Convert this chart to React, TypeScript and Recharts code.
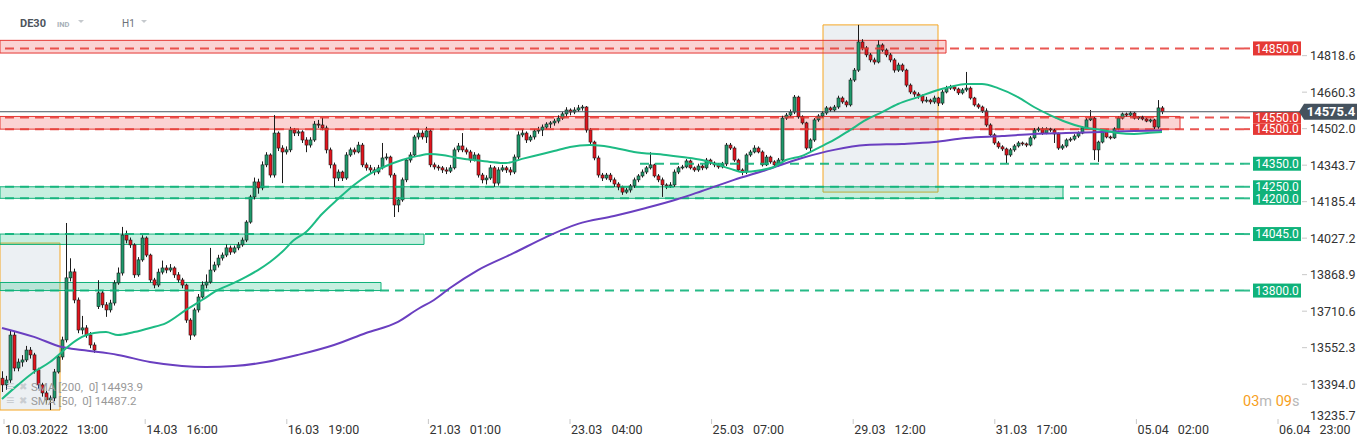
import React from "react";
import { ComposedChart, Bar, Line, XAxis, YAxis, ReferenceLine, ReferenceArea } from "recharts";

// hourly candles, [open, high, low, close]
const candles: [number, number, number, number][] = [
  [13420, 13450, 13360, 13391], [13391, 13430, 13370, 13412], [13412, 13625, 13400, 13607], [13607, 13620, 13450, 13464],
  [13464, 13505, 13450, 13490], [13490, 13520, 13470, 13499], [13499, 13560, 13490, 13542], [13542, 13555, 13505, 13521],
  [13521, 13530, 13440, 13456], [13456, 13465, 13375, 13391], [13391, 13400, 13340, 13356], [13356, 13365, 13310, 13326],
  [13326, 13345, 13282, 13334], [13334, 13460, 13320, 13447], [13447, 13525, 13440, 13512], [13512, 13600, 13500, 13586],
  [13586, 14093, 13575, 13855], [13855, 13940, 13840, 13881], [13881, 13895, 13745, 13759], [13759, 13770, 13615, 13629],
  [13629, 13690, 13610, 13638], [13638, 13650, 13595, 13607], [13607, 13620, 13550, 13564], [13564, 13575, 13530, 13542],
  [13730, 13845, 13720, 13790], [13790, 13800, 13725, 13738], [13738, 13750, 13686, 13716], [13716, 13760, 13705, 13746],
  [13746, 13845, 13735, 13833], [13833, 13900, 13825, 13876], [13876, 14076, 13865, 14041], [14041, 14060, 14005, 14019],
  [14019, 14030, 13985, 13998], [13998, 14005, 13855, 13868], [13868, 13945, 13860, 13933], [13933, 14040, 13925, 14028],
  [14028, 14035, 13945, 13954], [13954, 13960, 13835, 13846], [13846, 13855, 13810, 13824], [13824, 13895, 13815, 13880],
  [13880, 13930, 13870, 13898], [13898, 13910, 13875, 13889], [13889, 13915, 13880, 13898], [13898, 13905, 13855, 13868],
  [13868, 13880, 13835, 13846], [13846, 13855, 13810, 13824], [13824, 13830, 13660, 13672], [13672, 13680, 13586, 13607],
  [13607, 13725, 13600, 13716], [13716, 13785, 13705, 13772], [13772, 13840, 13765, 13824], [13824, 13870, 13810, 13837],
  [13837, 13985, 13830, 13889], [13889, 13925, 13880, 13911], [13911, 13955, 13900, 13941], [13941, 13965, 13930, 13954],
  [13954, 14000, 13945, 13985], [13985, 13995, 13955, 13967], [13967, 13995, 13960, 13985], [13985, 14010, 13975, 13998],
  [13998, 14030, 13990, 14019], [14019, 14105, 14010, 14097], [14097, 14215, 14090, 14206], [14206, 14290, 14195, 14271],
  [14271, 14285, 14220, 14245], [14245, 14360, 14235, 14345], [14345, 14400, 14335, 14388], [14388, 14395, 14290, 14301],
  [14301, 14561, 14290, 14483], [14483, 14490, 14405, 14418], [14418, 14430, 14266, 14401], [14401, 14425, 14390, 14410],
  [14410, 14510, 14400, 14496], [14496, 14505, 14470, 14483], [14483, 14500, 14470, 14488], [14488, 14495, 14440, 14453],
  [14453, 14465, 14400, 14431], [14431, 14465, 14420, 14453], [14453, 14535, 14445, 14522], [14522, 14540, 14505, 14518],
  [14518, 14550, 14495, 14505], [14505, 14515, 14395, 14410], [14410, 14420, 14330, 14345], [14345, 14355, 14249, 14288],
  [14288, 14325, 14275, 14314], [14314, 14320, 14275, 14288], [14288, 14400, 14280, 14388], [14388, 14420, 14380, 14410],
  [14410, 14420, 14390, 14401], [14401, 14445, 14395, 14431], [14431, 14440, 14335, 14345], [14345, 14355, 14320, 14332],
  [14332, 14345, 14310, 14323], [14323, 14335, 14300, 14314], [14314, 14345, 14305, 14332], [14332, 14440, 14325, 14375],
  [14375, 14395, 14365, 14379], [14379, 14385, 14290, 14301], [14301, 14310, 14119, 14171], [14171, 14205, 14140, 14193],
  [14193, 14290, 14185, 14280], [14280, 14375, 14270, 14366], [14366, 14400, 14355, 14388], [14388, 14475, 14380, 14466],
  [14466, 14500, 14455, 14483], [14483, 14495, 14455, 14466], [14466, 14510, 14440, 14492], [14492, 14500, 14335, 14345],
  [14345, 14355, 14325, 14336], [14336, 14345, 14320, 14332], [14332, 14340, 14310, 14323], [14323, 14335, 14305, 14318],
  [14318, 14345, 14310, 14332], [14332, 14420, 14325, 14410], [14410, 14440, 14400, 14427], [14427, 14483, 14400, 14410],
  [14410, 14420, 14390, 14401], [14401, 14410, 14355, 14366], [14366, 14400, 14360, 14388], [14388, 14395, 14290, 14301],
  [14301, 14310, 14265, 14280], [14280, 14300, 14260, 14288], [14288, 14345, 14280, 14332], [14332, 14340, 14250, 14266],
  [14266, 14335, 14255, 14323], [14323, 14345, 14315, 14332], [14332, 14340, 14310, 14323], [14323, 14335, 14300, 14314],
  [14314, 14390, 14305, 14379], [14379, 14490, 14370, 14475], [14475, 14500, 14465, 14483], [14483, 14490, 14440, 14453],
  [14453, 14475, 14445, 14466], [14466, 14500, 14455, 14492], [14492, 14510, 14480, 14496], [14496, 14520, 14470, 14509],
  [14509, 14530, 14500, 14522], [14522, 14535, 14505, 14527], [14527, 14545, 14515, 14535], [14535, 14560, 14525, 14548],
  [14548, 14575, 14540, 14566], [14566, 14595, 14555, 14583], [14583, 14590, 14560, 14574], [14574, 14595, 14565, 14583],
  [14583, 14605, 14575, 14592], [14592, 14605, 14580, 14596], [14596, 14600, 14485, 14496], [14496, 14505, 14435, 14444],
  [14444, 14450, 14365, 14375], [14375, 14385, 14290, 14301], [14301, 14310, 14275, 14288], [14288, 14310, 14280, 14301],
  [14301, 14310, 14270, 14280], [14280, 14290, 14250, 14262], [14262, 14270, 14235, 14249], [14249, 14255, 14215, 14227],
  [14227, 14245, 14220, 14236], [14236, 14262, 14225, 14254], [14254, 14290, 14245, 14280], [14280, 14305, 14270, 14297],
  [14297, 14325, 14290, 14314], [14314, 14340, 14305, 14332], [14332, 14400, 14325, 14345], [14345, 14350, 14290, 14297],
  [14297, 14305, 14270, 14280], [14280, 14290, 14206, 14258], [14258, 14265, 14240, 14254], [14254, 14270, 14245, 14258],
  [14258, 14325, 14250, 14314], [14314, 14340, 14305, 14332], [14332, 14345, 14325, 14336], [14336, 14370, 14330, 14362],
  [14362, 14368, 14325, 14332], [14332, 14338, 14315, 14323], [14323, 14350, 14315, 14340], [14340, 14348, 14322, 14332],
  [14332, 14375, 14325, 14366], [14366, 14372, 14345, 14353], [14353, 14360, 14335, 14345], [14345, 14352, 14328, 14336],
  [14336, 14358, 14330, 14349], [14349, 14440, 14340, 14431], [14431, 14440, 14410, 14418], [14418, 14425, 14358, 14366],
  [14366, 14372, 14315, 14323], [14323, 14330, 14300, 14314], [14314, 14395, 14305, 14388], [14388, 14410, 14380, 14401],
  [14401, 14430, 14395, 14418], [14418, 14425, 14395, 14401], [14401, 14408, 14338, 14345], [14345, 14388, 14340, 14379],
  [14379, 14385, 14350, 14358], [14358, 14365, 14335, 14345], [14345, 14375, 14338, 14366], [14366, 14558, 14360, 14548],
  [14548, 14570, 14540, 14561], [14561, 14585, 14555, 14574], [14574, 14648, 14565, 14639], [14639, 14645, 14545, 14553],
  [14553, 14560, 14520, 14527], [14527, 14532, 14410, 14418], [14418, 14460, 14405, 14453], [14453, 14548, 14445, 14540],
  [14540, 14565, 14532, 14557], [14557, 14578, 14550, 14570], [14570, 14600, 14562, 14592], [14592, 14598, 14575, 14583],
  [14583, 14605, 14575, 14596], [14596, 14645, 14588, 14635], [14635, 14642, 14610, 14618], [14618, 14625, 14595, 14605],
  [14605, 14722, 14598, 14713], [14713, 14765, 14705, 14756], [14756, 14952, 14748, 14878], [14878, 14890, 14842, 14852],
  [14852, 14860, 14812, 14822], [14822, 14830, 14790, 14800], [14800, 14810, 14780, 14791], [14791, 14885, 14785, 14865],
  [14865, 14872, 14835, 14843], [14843, 14850, 14812, 14822], [14822, 14830, 14790, 14800], [14800, 14808, 14745, 14756],
  [14756, 14788, 14748, 14778], [14778, 14785, 14748, 14756], [14756, 14762, 14682, 14691], [14691, 14698, 14652, 14661],
  [14661, 14668, 14640, 14652], [14652, 14660, 14632, 14644], [14644, 14650, 14612, 14622], [14622, 14640, 14615, 14626],
  [14626, 14632, 14608, 14618], [14618, 14645, 14610, 14635], [14635, 14640, 14600, 14613], [14613, 14670, 14605, 14661],
  [14661, 14688, 14655, 14678], [14678, 14692, 14670, 14683], [14683, 14690, 14665, 14674], [14674, 14680, 14648, 14657],
  [14657, 14678, 14650, 14670], [14670, 14748, 14662, 14678], [14678, 14685, 14628, 14635], [14635, 14640, 14598, 14605],
  [14605, 14612, 14588, 14596], [14596, 14602, 14570, 14579], [14579, 14590, 14510, 14518], [14518, 14525, 14468, 14475],
  [14475, 14482, 14432, 14440], [14440, 14448, 14415, 14423], [14423, 14430, 14405, 14414], [14414, 14420, 14353, 14388],
  [14388, 14418, 14380, 14410], [14410, 14435, 14402, 14427], [14427, 14448, 14420, 14440], [14440, 14446, 14428, 14436],
  [14436, 14442, 14422, 14431], [14431, 14470, 14425, 14462], [14462, 14505, 14455, 14496], [14496, 14510, 14488, 14501],
  [14501, 14508, 14475, 14483], [14483, 14508, 14478, 14501], [14501, 14506, 14488, 14496], [14496, 14502, 14440, 14479],
  [14479, 14485, 14410, 14418], [14418, 14435, 14410, 14427], [14427, 14460, 14420, 14453], [14453, 14465, 14445, 14457],
  [14457, 14478, 14450, 14470], [14470, 14490, 14462, 14483], [14483, 14512, 14478, 14505], [14505, 14548, 14500, 14540],
  [14540, 14583, 14535, 14548], [14548, 14552, 14366, 14410], [14410, 14450, 14358, 14444], [14444, 14500, 14438, 14492],
  [14492, 14498, 14460, 14466], [14466, 14472, 14455, 14462], [14462, 14508, 14458, 14501], [14501, 14555, 14495, 14548],
  [14548, 14572, 14542, 14566], [14566, 14572, 14555, 14561], [14561, 14578, 14556, 14570], [14570, 14575, 14542, 14548],
  [14548, 14556, 14540, 14552], [14552, 14558, 14538, 14544], [14544, 14550, 14530, 14535], [14535, 14546, 14528, 14540],
  [14540, 14545, 14500, 14509], [14509, 14626, 14502, 14592], [14592, 14600, 14565, 14575.4],
];

// moving averages read at some candle indices: [index, value]
const sma50Points: [number, number][] = [
  [0, 13330], [4, 13391], [8, 13447], [12, 13490], [15, 13534], [17, 13564], [20, 13599], [23, 13616],
  [26, 13620], [29, 13607], [33, 13620], [37, 13638], [41, 13659], [46, 13716], [50, 13759], [54, 13803],
  [58, 13833], [61, 13859], [64, 13889], [67, 13924], [70, 13967], [73, 14019], [76, 14054], [80, 14132],
  [84, 14197], [88, 14258], [92, 14306], [96, 14340], [100, 14366], [104, 14384], [107, 14392], [110, 14388],
  [114, 14375], [118, 14366], [122, 14358], [126, 14353], [130, 14371], [134, 14388], [138, 14405], [142, 14423],
  [147, 14431], [152, 14423], [158, 14401], [166, 14388], [170, 14379], [175, 14366], [179, 14345], [183, 14323],
  [185, 14314], [190, 14323], [193, 14336], [196, 14366], [200, 14384], [204, 14418], [208, 14453], [212, 14496],
  [216, 14540], [220, 14574], [224, 14609], [229, 14639], [234, 14670], [237, 14683], [241, 14696], [245, 14696],
  [249, 14678], [254, 14639], [258, 14596], [262, 14561], [266, 14531], [270, 14509], [275, 14496], [279, 14483],
  [283, 14479], [287, 14484], [290, 14487.2],
];
const sma200Points: [number, number][] = [
  [0, 13638], [8, 13599], [15, 13555], [20, 13542], [29, 13521], [37, 13490], [45, 13473], [51, 13469],
  [58, 13473], [66, 13490], [74, 13521], [83, 13564], [91, 13616], [99, 13664], [104, 13720], [108, 13759],
  [112, 13811], [119, 13889], [128, 13963], [136, 14032], [144, 14089], [153, 14123], [161, 14158], [169, 14197],
  [175, 14232], [183, 14280], [191, 14323], [200, 14375], [208, 14410], [216, 14431], [225, 14436], [233, 14444],
  [241, 14462], [250, 14470], [258, 14479], [266, 14483], [275, 14488], [283, 14492], [290, 14493.9],
];

const xTickPos = [1, 36.3, 71.7, 107.1, 142.5, 177.9, 213.3, 248.7, 284.1, 319.5];
const xTickDates = ["10.03.2022", "14.03", "16.03", "21.03", "23.03", "25.03", "29.03", "31.03", "05.04", "06.04"];
const xTickTimes = ["13:00", "16:00", "19:00", "01:00", "04:00", "07:00", "12:00", "17:00", "02:00", "23:00"];
const priceTicks = [14818.6, 14660.3, 14502.0, 14343.7, 14185.4, 14027.2, 13868.9, 13710.6, 13552.3, 13394.0, 13235.7];

const resistanceLevels = [14850, 14550, 14500];
const supportLevels = [14250, 14200, 14045, 13800];
const lateSupport = { level: 14350, from: 160 };
const lastPrice = 14575.4;
const sma200Last = 14493.9;
const sma50Last = 14487.2;

// zones: [from index, to index, low, high]
const resistanceZones: [number, number, number, number][] = [[0, 236.5, 14830, 14885], [0, 295, 14500, 14555]];
const supportZones: [number, number, number, number][] = [[0, 265.75, 14200, 14250], [0, 106, 14000, 14045], [0, 95.25, 13800, 13835]];
const rangeBoxes: [number, number, number, number][] = [[205.75, 234.5, 14227, 14952], [0, 15, 13282, 14006]];

const RED = "#e53935";
const GREEN = "#10b27a";
const FONT = "Roboto, 'Noto Sans', sans-serif";

const rows = candles.map(([o, h, l, c], i) => ({ x: i + 0.5, range: [l, h], o, h, l, c }));
const sma50Data = sma50Points.map(([i, v]) => ({ x: i + 0.5, v }));
const sma200Data = sma200Points.map(([i, v]) => ({ x: i + 0.5, v }));

const Candle = (props: any) => {
  const { x, y, width, height, payload } = props;
  if (!payload || height == null) return null;
  const { o, h, l, c } = payload;
  const cx = Math.round(x + width / 2) + 0.5;
  const k = h === l ? 0 : height / (h - l);
  const yO = y + (h - o) * k;
  const yC = y + (h - c) * k;
  const up = c >= o;
  const top = Math.min(yO, yC);
  const bh = Math.max(1, Math.abs(yO - yC));
  return (
    <g>
      <line x1={cx} x2={cx} y1={y} y2={y + height} stroke="#1c1c1c" strokeWidth={1} />
      <rect x={cx - 1.5} y={top} width={3} height={bh} fill={up ? "#1f9a6c" : "#e3141d"} stroke="#1c1c1c" strokeWidth={0.6} />
    </g>
  );
};

const PriceTick = ({ y, payload }: any) => {
  const last = payload.value === priceTicks[priceTicks.length - 1];
  return (
    <g>
      {!last && <line x1={1302} x2={1307} y1={y} y2={y} stroke="#c8c8c8" />}
      <text x={1310} y={last ? y - 5 : y} dy={4.5} fontSize={12.5} fill="#333" fontFamily={FONT}>
        {Number(payload.value).toFixed(1)}
      </text>
    </g>
  );
};

const TimeTick = ({ x, payload }: any) => {
  const i = xTickPos.indexOf(payload.value);
  if (i < 0) return null;
  return (
    <g>
      <line x1={x} x2={x} y1={419} y2={424} stroke="#c8c8c8" />
      <text x={x + 1} y={434} fontSize={12.5} fill="#333" fontFamily={FONT}>
        <tspan>{xTickDates[i]}</tspan>
        <tspan dx={9}>{xTickTimes[i]}</tspan>
      </text>
    </g>
  );
};

const LevelLabel = ({ viewBox, value, color, h = 14 }: any) => {
  if (!viewBox) return null;
  const y = viewBox.y;
  return (
    <g>
      <line x1={1244} x2={1250} y1={y} y2={y} stroke={color} strokeWidth={2} strokeOpacity={0.85} />
      <rect x={1253} y={y - h / 2} width={48} height={h} fill={color} />
      <text x={1277} y={y} dy={4.3} textAnchor="middle" fontSize={12} fill="#fff" fontFamily={FONT}>
        {value.toFixed(1)}
      </text>
    </g>
  );
};

const LastLabel = ({ viewBox }: any) => {
  if (!viewBox) return null;
  const y = viewBox.y;
  return (
    <g>
      <line x1={1244} x2={1300} y1={y} y2={y} stroke="#4a5560" />
      <path d={`M1299 ${y} L1304 ${y - 8} L1357 ${y - 8} L1357 ${y + 8} L1304 ${y + 8} Z`} fill="#45525e" />
      <text x={1331} y={y} dy={4.5} textAnchor="middle" fontSize={13} fontWeight="bold" fill="#fff" fontFamily={FONT}>
        {lastPrice.toFixed(1)}
      </text>
    </g>
  );
};

const Caret = ({ left }: { left: number }) => (
  <div
    style={{
      position: "absolute", left, top: 20, width: 0, height: 0,
      borderLeft: "3.5px solid transparent", borderRight: "3.5px solid transparent", borderTop: "3.5px solid #c5c9cd",
    }}
  />
);

const LegendRow = ({ top, text }: { top: number; text: string }) => (
  <div style={{ position: "absolute", left: 0, top, height: 14, fontSize: 11.5, lineHeight: "14px", whiteSpace: "pre" }}>
    <span style={{ position: "absolute", left: 6, top: -1, color: "#c9cdd1", fontSize: 14, fontWeight: "bold" }}>≡</span>
    <span style={{ position: "absolute", left: 19, top: 0, color: "#c9cdd1", fontSize: 10 }}>✖</span>
    <span style={{ position: "absolute", left: 31, top: 0, color: "#999" }}>{text}</span>
  </div>
);

export default function App() {
  return (
    <div style={{ position: "absolute", left: 0, top: 0, width: 1368, height: 446, background: "#fff", fontFamily: FONT, overflow: "hidden" }}>
      <ComposedChart width={1368} height={446} data={rows} margin={{ top: 0, right: 0, bottom: 0, left: 0 }}>
        <XAxis
          dataKey="x" type="number" domain={[0, 311]} allowDataOverflow
          ticks={xTickPos} interval={0} tick={<TimeTick />} axisLine={false} tickLine={false} height={24}
        />
        <YAxis
          orientation="right" type="number" domain={[13230, 15060]} allowDataOverflow
          ticks={priceTicks} interval={0} tick={<PriceTick />} axisLine={false} tickLine={false} width={124}
        />

        {rangeBoxes.map(([a, b, lo, hi], i) => (
          <ReferenceArea key={"box" + i} x1={a} x2={b} y1={lo} y2={hi} fill="#dde3ea" fillOpacity={0.55} stroke="#f5a623" strokeWidth={1} />
        ))}
        {resistanceZones.map(([a, b, lo, hi], i) => (
          <ReferenceArea key={"rz" + i} x1={a} x2={b} y1={lo} y2={hi} fill="#f0504f" fillOpacity={0.25} stroke={RED} strokeWidth={1} />
        ))}
        {supportZones.map(([a, b, lo, hi], i) => (
          <ReferenceArea key={"sz" + i} x1={a} x2={b} y1={lo} y2={hi} fill="#1ebe82" fillOpacity={0.25} stroke={GREEN} strokeWidth={1} />
        ))}

        {resistanceLevels.map((v, i) => (
          <ReferenceLine
            key={"r" + v} y={v} stroke={RED} strokeOpacity={0.85} strokeWidth={2} strokeDasharray="9 6"
            label={<LevelLabel value={v} color={RED} h={i === 0 ? 14 : 11.5} />}
          />
        ))}
        {supportLevels.map((v, i) => (
          <ReferenceLine
            key={"s" + v} y={v} stroke={GREEN} strokeOpacity={0.9} strokeWidth={2} strokeDasharray="9 6"
            label={<LevelLabel value={v} color={GREEN} h={i < 2 ? 13 : 14} />}
          />
        ))}
        <ReferenceLine
          segment={[{ x: lateSupport.from, y: lateSupport.level }, { x: 311, y: lateSupport.level }]}
          stroke={GREEN} strokeOpacity={0.9} strokeWidth={2} strokeDasharray="9 6"
          label={<LevelLabel value={lateSupport.level} color={GREEN} />}
        />
        <ReferenceLine y={lastPrice} stroke="#4a5560" strokeWidth={1} label={<LastLabel />} />

        <Line data={sma200Data} dataKey="v" type="monotone" stroke="#6a3fc0" strokeWidth={2} dot={false} activeDot={false} isAnimationActive={false} />
        <Line data={sma50Data} dataKey="v" type="monotone" stroke="#1dbb84" strokeWidth={2} dot={false} activeDot={false} isAnimationActive={false} />
        <Bar dataKey="range" barSize={3} shape={<Candle />} isAnimationActive={false} />
      </ComposedChart>

      <div style={{ position: "absolute", left: 20, top: 17, fontSize: 11, fontWeight: "bold", color: "#4d545c" }}>DE30</div>
      <div style={{ position: "absolute", left: 57, top: 19.5, fontSize: 7.5, fontWeight: "bold", color: "#a7b0b8" }}>IND</div>
      <Caret left={78} />
      <div style={{ position: "absolute", left: 122, top: 17.5, fontSize: 10, color: "#6b7177" }}>H1</div>
      <Caret left={141} />

      <LegendRow top={380} text={`SMA [200,  0] ${sma200Last.toFixed(1)}`} />
      <LegendRow top={394} text={`SMA [50,  0] ${sma50Last.toFixed(1)}`} />

      <div style={{ position: "absolute", left: 1243, top: 393, fontSize: 14.5, whiteSpace: "pre" }}>
        <span style={{ color: "#f7a01c" }}>03</span>
        <span style={{ color: "#b8b8b8" }}>m </span>
        <span style={{ color: "#f7a01c" }}>09</span>
        <span style={{ color: "#b8b8b8" }}>s</span>
      </div>
    </div>
  );
}
